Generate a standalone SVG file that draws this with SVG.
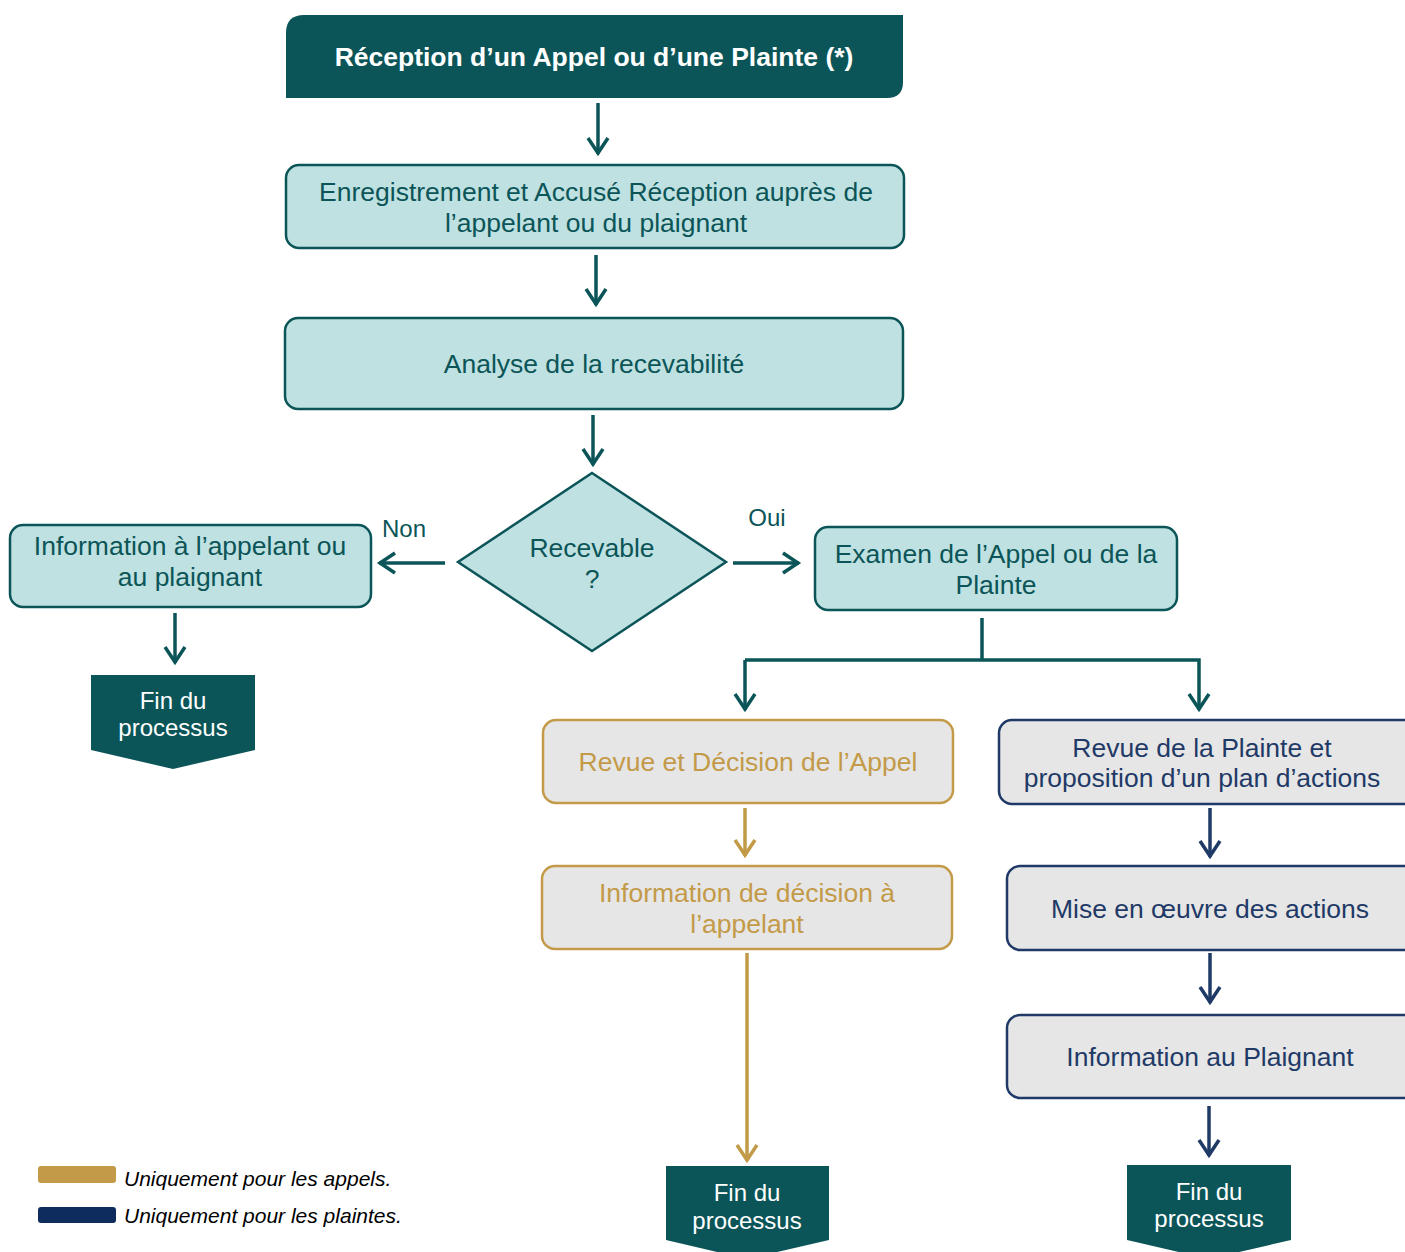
<svg xmlns="http://www.w3.org/2000/svg" width="1405" height="1252" viewBox="0 0 1405 1252">
<style>
text{font-family:"Liberation Sans",Arial,sans-serif;text-anchor:middle;dominant-baseline:central}
.t{fill:#0B5558;font-size:26.5px}
.w{fill:#fff;font-size:24px}
.g{fill:#C39A48;font-size:26.5px}
.n{fill:#1F3A66;font-size:26.5px}
.lt{fill:#BFE1E1;stroke:#0B5558;stroke-width:2.5}
.ga{fill:#E6E6E6;stroke:#C39A48;stroke-width:2.5}
.na{fill:#E6E6E6;stroke:#1F3A66;stroke-width:2.5}
.dk{fill:#0B5558}
.ct{stroke:#0B5558;stroke-width:3.5;fill:none}
.cg{stroke:#C39A48;stroke-width:3.5;fill:none}
.cn{stroke:#1F3A66;stroke-width:3.5;fill:none}
.lg{font-size:21px;font-style:italic;fill:#000;text-anchor:start}
</style>
<defs>
<marker id="at" markerUnits="userSpaceOnUse" markerWidth="40" markerHeight="40" viewBox="-20 -20 40 40" refX="0" refY="0" orient="auto"><path d="M-16,-10 L-1,0 L-16,10" fill="none" stroke="#0B5558" stroke-width="3.5"/></marker>
<marker id="ag" markerUnits="userSpaceOnUse" markerWidth="40" markerHeight="40" viewBox="-20 -20 40 40" refX="0" refY="0" orient="auto"><path d="M-16,-10 L-1,0 L-16,10" fill="none" stroke="#C39A48" stroke-width="3.5"/></marker>
<marker id="an" markerUnits="userSpaceOnUse" markerWidth="40" markerHeight="40" viewBox="-20 -20 40 40" refX="0" refY="0" orient="auto"><path d="M-16,-10 L-1,0 L-16,10" fill="none" stroke="#1F3A66" stroke-width="3.5"/></marker>
</defs>

<g id="connectors">
<line class="ct" x1="598" y1="103" x2="598" y2="154" marker-end="url(#at)"/>
<line class="ct" x1="596" y1="255" x2="596" y2="305" marker-end="url(#at)"/>
<line class="ct" x1="593" y1="415" x2="593" y2="465" marker-end="url(#at)"/>
<line class="ct" x1="445" y1="563" x2="379" y2="563" marker-end="url(#at)"/>
<line class="ct" x1="733" y1="563" x2="799" y2="563" marker-end="url(#at)"/>
<line class="ct" x1="175" y1="613" x2="175" y2="663" marker-end="url(#at)"/>
<line class="ct" x1="982" y1="618" x2="982" y2="660"/>
<polyline class="ct" points="745,660 1199,660 1199,710" marker-end="url(#at)"/>
<line class="ct" x1="745" y1="660" x2="745" y2="710" marker-end="url(#at)"/>
<line class="cg" x1="745" y1="808" x2="745" y2="856" marker-end="url(#ag)"/>
<line class="cg" x1="747" y1="953" x2="747" y2="1161" marker-end="url(#ag)"/>
<line class="cn" x1="1210" y1="808" x2="1210" y2="857" marker-end="url(#an)"/>
<line class="cn" x1="1210" y1="953" x2="1210" y2="1003" marker-end="url(#an)"/>
<line class="cn" x1="1209" y1="1106" x2="1209" y2="1156" marker-end="url(#an)"/>
<text class="t" x="404" y="528" style="font-size:24px">Non</text>
<text class="t" x="767" y="517" style="font-size:24px">Oui</text>
</g>

<g id="reception">
<path class="dk" d="M304,15 H903 V82 Q903,98 887,98 H286 V33 Q286,15 304,15 Z"/>
<text x="594" y="57" style="fill:#fff;font-size:26.5px;font-weight:bold">Réception d’un Appel ou d’une Plainte (*)</text>
</g>

<g id="enregistrement">
<rect class="lt" x="286" y="165" width="618" height="83" rx="13"/>
<text class="t" x="596" y="192">Enregistrement et Accusé Réception auprès de</text>
<text class="t" x="596" y="223">l’appelant ou du plaignant</text>
</g>

<g id="analyse">
<rect class="lt" x="285" y="318" width="618" height="91" rx="13"/>
<text class="t" x="594" y="364">Analyse de la recevabilité</text>
</g>

<g id="recevable">
<polygon class="lt" points="592,473 726,562 592,651 458,562"/>
<text class="t" x="592" y="548">Recevable</text>
<text class="t" x="592" y="579">?</text>
</g>

<g id="info-gauche">
<rect class="lt" x="10" y="525" width="361" height="82" rx="13"/>
<text class="t" x="190" y="546">Information à l’appelant ou</text>
<text class="t" x="190" y="577">au plaignant</text>
</g>

<g id="fin-gauche">
<polygon class="dk" points="91,675 255,675 255,750 173,769 91,750"/>
<text class="w" x="173" y="700">Fin du</text>
<text class="w" x="173" y="727">processus</text>
</g>

<g id="examen">
<rect class="lt" x="815" y="527" width="362" height="83" rx="13"/>
<text class="t" x="996" y="554">Examen de l’Appel ou de la</text>
<text class="t" x="996" y="585">Plainte</text>
</g>

<g id="revue-appel">
<rect class="ga" x="543" y="720" width="410" height="83" rx="13"/>
<text class="g" x="748" y="762">Revue et Décision de l’Appel</text>
</g>

<g id="info-decision">
<rect class="ga" x="542" y="866" width="410" height="83" rx="13"/>
<text class="g" x="747" y="893">Information de décision à</text>
<text class="g" x="747" y="924">l’appelant</text>
</g>

<g id="fin-appel">
<polygon class="dk" points="666,1166 829,1166 829,1240 747,1259 666,1240"/>
<text class="w" x="747" y="1192">Fin du</text>
<text class="w" x="747" y="1220">processus</text>
</g>

<g id="revue-plainte">
<rect class="na" x="999" y="720" width="420" height="84" rx="13"/>
<text class="n" x="1202" y="748">Revue de la Plainte et</text>
<text class="n" x="1202" y="778">proposition d’un plan d’actions</text>
</g>

<g id="mise-en-oeuvre">
<rect class="na" x="1007" y="866" width="412" height="84" rx="13"/>
<text class="n" x="1210" y="909">Mise en œuvre des actions</text>
</g>

<g id="info-plaignant">
<rect class="na" x="1007" y="1015" width="412" height="83" rx="13"/>
<text class="n" x="1210" y="1057">Information au Plaignant</text>
</g>

<g id="fin-plainte">
<polygon class="dk" points="1127,1165 1291,1165 1291,1240 1209,1259 1127,1240"/>
<text class="w" x="1209" y="1191">Fin du</text>
<text class="w" x="1209" y="1218">processus</text>
</g>

<g id="legende">
<rect x="38" y="1166" width="78" height="17" rx="3" fill="#C39A48"/>
<rect x="38" y="1207" width="78" height="16" rx="3" fill="#0F2C5E"/>
<text class="lg" x="124" y="1178">Uniquement pour les appels.</text>
<text class="lg" x="124" y="1215">Uniquement pour les plaintes.</text>
</g>
</svg>
